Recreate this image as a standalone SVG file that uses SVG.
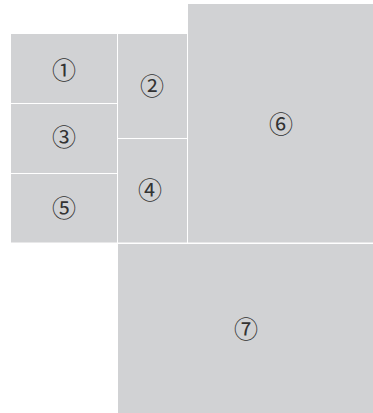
<svg xmlns="http://www.w3.org/2000/svg" width="373" height="413" viewBox="0 0 373 413">
<style>
.b{fill:#d1d2d4}
.t{font-family:"Noto Sans CJK JP","DejaVu Sans",sans-serif;font-size:24px;fill:#333;text-anchor:middle;dominant-baseline:central}
</style>
<rect width="373" height="413" fill="#fff"/>
<g id="n1"><rect class="b" x="11" y="34" width="106" height="69"/><text class="t" x="64" y="68">①</text></g>
<g id="n3"><rect class="b" x="11" y="104" width="106" height="69"/><text class="t" x="64" y="135">③</text></g>
<g id="n5"><rect class="b" x="11" y="174" width="106" height="68.5"/><text class="t" x="64" y="206">⑤</text></g>
<g id="n2"><rect class="b" x="118" y="34" width="69" height="104"/><text class="t" x="152" y="84">②</text></g>
<g id="n4"><rect class="b" x="118" y="139" width="69" height="103.5"/><text class="t" x="150" y="188">④</text></g>
<g id="n6"><rect class="b" x="188" y="4" width="185" height="238.5"/><text class="t" x="281" y="122">⑥</text></g>
<g id="n7"><rect class="b" x="118" y="244" width="255" height="169"/><text class="t" x="246" y="327">⑦</text></g>
<g id="connectors"/>
</svg>
